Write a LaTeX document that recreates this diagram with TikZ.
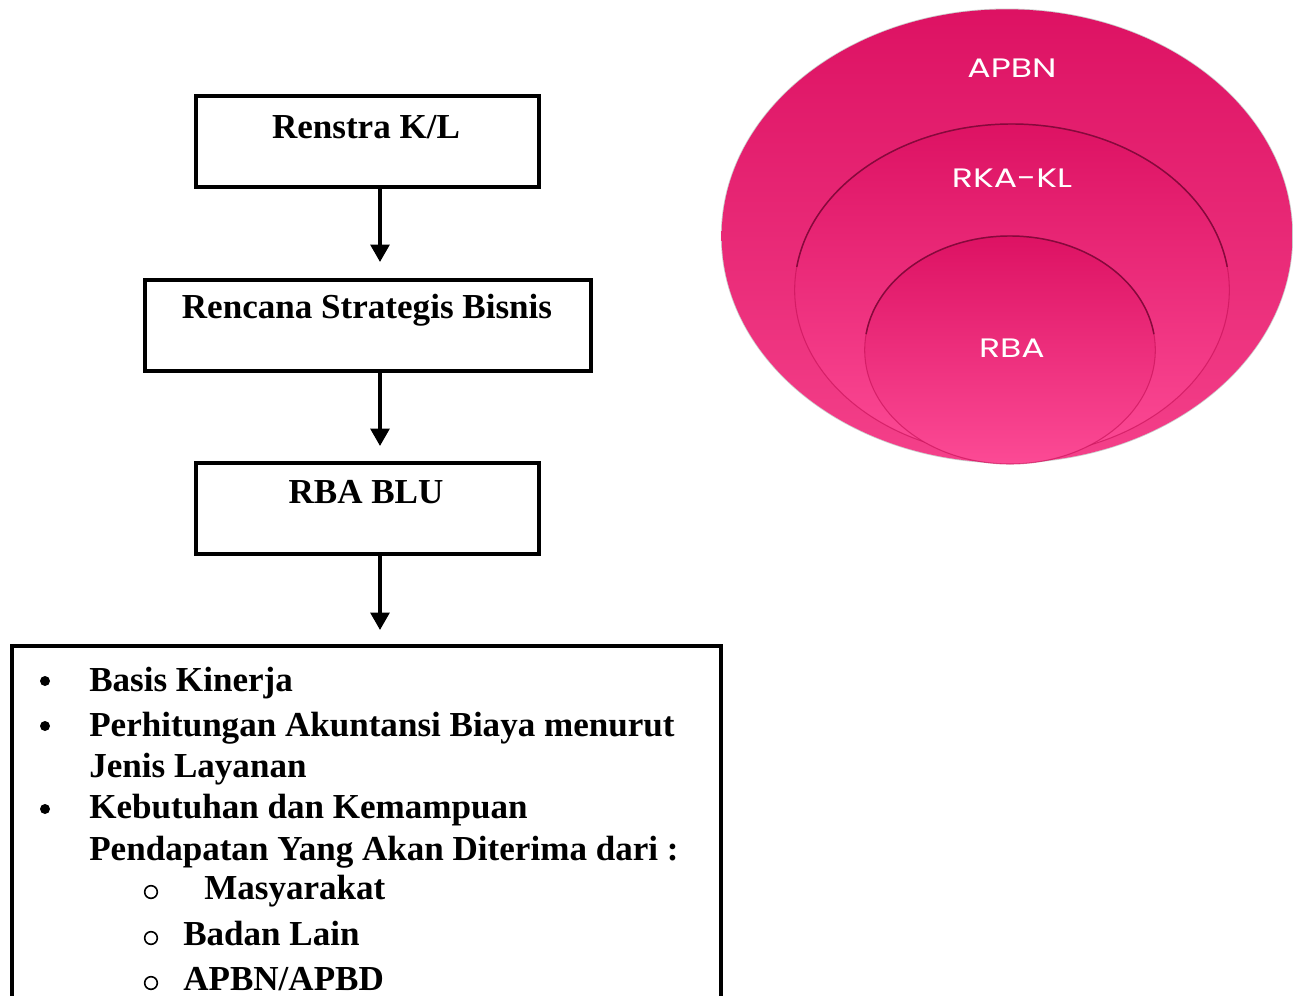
\documentclass[tikz,border=0pt]{standalone}
\usepackage{fontspec}
\setmainfont{Liberation Serif}
\newfontfamily\labfont{Poppins}
\usetikzlibrary{arrows.meta,calc}
\definecolor{pinktop}{HTML}{DD1263}
\definecolor{pinkbot}{HTML}{F4408A}
\definecolor{pinkbot2}{HTML}{FC4A95}
\definecolor{rimdark}{HTML}{86093C}
\definecolor{rimsoft}{HTML}{C40F55}
\begin{document}
\begin{tikzpicture}[x=0.75pt,y=-0.75pt,
  flowbox/.style={draw, line width=2.7pt, rectangle, inner sep=0pt},
  flowarrow/.style={line width=2.7pt, -{Triangle[width=14pt,length=13pt]}},
  boxtitle/.style={anchor=base, inner sep=0pt, font=\fontsize{26.3}{31}\selectfont\bfseries},
  listtext/.style={anchor=base west, inner sep=0pt, font=\fontsize{26.3}{31}\selectfont\bfseries},
  dotbullet/.style={circle, fill=black, inner sep=0pt, minimum size=7.5pt},
  ringbullet/.style={circle, draw=black, line width=1.2pt, inner sep=0pt, minimum size=9.5pt},
  elllabel/.style={text=white, inner sep=0pt, xscale=1.3, font=\labfont\fontsize{20}{24}\selectfont}]
\useasboundingbox (0,0) rectangle (1293,996);

% ---- nested ellipses ----
\draw[gray!40, line width=1.2pt] (1007,236) ellipse [x radius=214pt, y radius=170pt];
\shade[top color=pinktop, bottom color=pinkbot] (1007,236) ellipse [x radius=214pt, y radius=170pt];
\shade[top color=pinktop, bottom color=pinkbot2] (1012,290) ellipse [x radius=163pt, y radius=124.5pt];
\draw[rimsoft, opacity=0.6, line width=0.8pt] (1012,290) ellipse [x radius=163pt, y radius=124.5pt];
\draw[rimdark, line width=1.1pt] ($(1012,290)+(172:163pt and 124.5pt)$) arc[start angle=172, end angle=8, x radius=163pt, y radius=124.5pt];
\shade[top color=pinktop, bottom color=pinkbot2] (1010,350) ellipse [x radius=109pt, y radius=85.5pt];
\draw[rimsoft, opacity=0.6, line width=0.8pt] (1010,350) ellipse [x radius=109pt, y radius=85.5pt];
\draw[rimdark, line width=1.1pt] ($(1010,350)+(172:109pt and 85.5pt)$) arc[start angle=172, end angle=8, x radius=109pt, y radius=85.5pt];
\node[elllabel] (apbn) at (1012,68) {APBN};
\node[elllabel] (rkakl) at (1012,178) {RKA-KL};
\node[elllabel] (rba) at (1012,348) {RBA};

% ---- flow boxes ----
\node[flowbox, minimum width=257.25pt, minimum height=68.25pt] (b1) at (367.5,141.5) {};
\node[flowbox, minimum width=334.5pt, minimum height=68.25pt] (b2) at (368,325.5) {};
\node[flowbox, minimum width=257.25pt, minimum height=68.25pt] (b3) at (367.5,508.5) {};
\node[boxtitle] (t1) at (366,138) {Renstra K/L};
\node[boxtitle] (t2) at (367,318) {Rencana Strategis Bisnis};
\node[boxtitle] (t3) at (366,503) {RBA BLU};

\coordinate (a1) at (380,262);
\coordinate (a2) at (380,446);
\coordinate (a3) at (380,630);
\draw[flowarrow] (b1.south -| a1) -- (a1);
\draw[flowarrow] (b2.south -| a2) -- (a2);
\draw[flowarrow] (b3.south -| a3) -- (a3);

% ---- bottom list box (open at the bottom edge) ----
\draw[line width=2.7pt] (12,998) -- (12,646) -- (721,646) -- (721,998);
\node[dotbullet] (d1) at (45,681) {};
\node[dotbullet] (d2) at (45,726) {};
\node[dotbullet] (d3) at (45,809) {};
\node[listtext] (l1) at (89,691) {Basis Kinerja};
\node[listtext] (l2) at (89,736) {\makebox[439pt][s]{Perhitungan Akuntansi Biaya menurut}};
\node[listtext] (l3) at (89,777) {Jenis Layanan};
\node[listtext] (l4) at (89,818) {Kebutuhan dan Kemampuan};
\node[listtext] (l5) at (89,860) {Pendapatan Yang Akan Diterima dari :};
\node[ringbullet] (r1) at (151,892) {};
\node[ringbullet] (r2) at (151,938) {};
\node[ringbullet] (r3) at (151,983) {};
\node[listtext] (s1) at (204,899) {Masyarakat};
\node[listtext] (s2) at (183,945) {Badan Lain};
\node[listtext] (s3) at (183,990) {APBN/APBD};
\end{tikzpicture}
\end{document}
